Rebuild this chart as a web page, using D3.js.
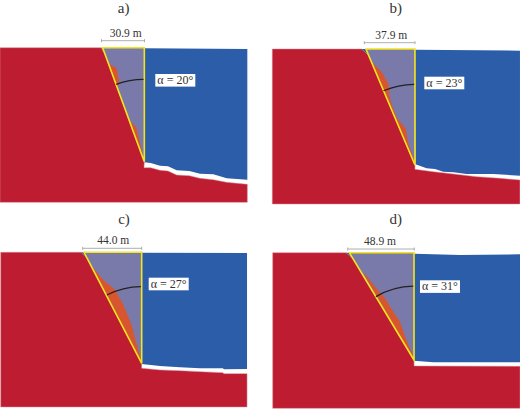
<!DOCTYPE html>
<html>
<head>
<meta charset="utf-8">
<script src="https://cdn.jsdelivr.net/npm/d3@7"></script>
<style>
    html, body { margin: 0; padding: 0; background: #fff; }
    svg { display: block; }
    text { font-family: "Liberation Serif", serif; fill: #333; }
</style>
</head>
<body>
<div id="vis"></div>
<script>
// all lengths in metres: x from left edge of the section, y down from the crest
var panelNames = ['a)', 'b)', 'c)', 'd)'];
var widthLabels = ['30.9 m', '37.9 m', '44.0 m', '48.9 m'];
var alphas = [20, 23, 27, 31];

var sectionWidth = [185.5, 185.75, 184.75, 185.5];
var sectionDepth = [116, 116.25, 116, 116.75];
var crestX = [75.75, 67, 60.25, 55];
var slipTopX = [77, 70.25, 62.5, 57.5];
var slipRightX = [108.25, 107, 105.75, 106];
var toeY = [85.5, 87, 83.25, 80.5];
var arcRadius = [61.75, 60.5, 57.5, 55.5];
var sliverDepth = 4.5;

var blueTop = [
    [[108.25, 0.5], [185.5, 1]],
    [[107, 0.5], [185.75, 1.25]],
    [[105.75, 0.25], [184.75, 0.5]],
    [[106, 0.75], [140.5, 1.75], [185.5, 1.25]]
];
var blueBottom = [
    [[108.25, 86], [113, 86.5], [120, 88.5], [126, 89], [132.5, 92], [142, 92.5], [150, 94.5], [160, 95], [170, 98], [185.5, 99]],
    [[107.25, 86.5], [115.75, 89.5], [122, 90], [128.25, 92], [136, 92.5], [145.75, 93.75], [165.75, 93.75], [185.75, 95]],
    [[105.75, 83.75], [119.5, 85.25], [134.5, 86.25], [149.5, 87], [166.5, 87], [167.5, 87.75], [184.75, 87.5]],
    [[106, 81], [120.5, 82.25], [185.5, 82.25]]
];
var redTop = [
    [[108, 90], [113, 90], [120, 92], [126, 92.5], [132.5, 95.5], [142, 96], [150, 98], [160, 99], [170, 101], [185.5, 102.5]],
    [[107, 90.25], [120.75, 92], [135.75, 93.75], [153.25, 95.75], [170.75, 97], [185.75, 98.25]],
    [[105.75, 87], [119.5, 88.25], [134.5, 88.75], [149.5, 89.5], [166.5, 90.25], [167.5, 91], [184.75, 91]],
    [[106, 85], [185.5, 85.25]]
];
var orangePatches = [
    [
        [[81.25, 11.75], [87.5, 15.5], [89.25, 24.25], [88.75, 28.75], [87.5, 28.75]],
        [[97, 54.25], [102.5, 60.5], [105, 71.75], [108, 84.75], [108.25, 85.5]]
    ],
    [
        [[74.5, 9.5], [82, 17], [87, 26], [88, 32], [87.5, 34], [90, 43], [93.75, 52.25], [100, 59.5], [102, 70.75], [107, 85.75], [107, 87]]
    ],
    [
        [[69.25, 12], [70.75, 13.25], [77, 20.75], [86, 28.25], [92, 39.5], [98.25, 54.5], [100.75, 64.5], [105.75, 82], [105.75, 83.25]]
    ],
    [
        [[68, 15.5], [70, 16.75], [76.75, 25.5], [84.25, 34.25], [90.5, 44.25], [95.5, 51.75], [99.25, 63], [106, 79.25], [106, 80.5]]
    ]
];

// where each panel sits on the page, in pixels
var pxPerMetre = 4 / 3;
var originX = [0, 272.3, 0.7, 272.7];
var originY = [47.7, 49, 252.3, 252.7];
var titlePos = [[123.7, 12.5], [395.7, 12.5], [124, 224], [395.7, 224]];
var dimPos = [[101.5, 144.5, 40.7], [364.3, 415, 42.7], [82.7, 141.7, 248.3], [347.7, 414.3, 249]];
var dimLabelPos = [[125.7, 37], [391.3, 39], [113.3, 244], [380, 245.3]];
var boxPos = [[155.3, 74], [424.3, 76.7], [148.7, 277.7], [420, 280.3]];

var red = '#bd1c31', blue = '#2b5da8', wedge = '#7a7aaa', orange = '#d8562f', yellow = '#f4e41c';

var svg = d3.select('#vis').append('svg').attr('width', 520).attr('height', 409);
var line = d3.line();

panelNames.forEach(function(name, i) {
    var x = d3.scaleLinear().domain([0, sectionWidth[i]])
        .range([originX[i], originX[i] + sectionWidth[i] * pxPerMetre]);
    var y = d3.scaleLinear().domain([0, sectionDepth[i]])
        .range([originY[i], originY[i] + sectionDepth[i] * pxPerMetre]);
    var toPx = function(p) { return [x(p[0]), y(p[1])]; };
    var g = svg.append('g');

    // point on the slip line where the blue sliver at the crest ends
    var slipAt = d3.scaleLinear().domain([0, toeY[i]]).range([slipTopX[i], slipRightX[i]]);
    var sliverEnd = [slipAt(sliverDepth), sliverDepth];

    var redShape = [[0, 0], [crestX[i], 0], sliverEnd, [slipRightX[i], toeY[i]]]
        .concat(redTop[i])
        .concat([[sectionWidth[i], sectionDepth[i]], [0, sectionDepth[i]]]);
    g.append('path').attr('d', line(redShape.map(toPx)) + 'Z')
        .attr('fill', red).attr('stroke', '#d98a94').attr('stroke-width', 0.5);

    var blueShape = blueTop[i].concat(blueBottom[i].slice().reverse());
    g.append('path').attr('d', line(blueShape.map(toPx)) + 'Z').attr('fill', blue);

    var sliver = [[crestX[i], 0], [slipTopX[i], 0], sliverEnd];
    g.append('path').attr('d', line(sliver.map(toPx)) + 'Z').attr('fill', blue);

    var slip = [[slipTopX[i], 0], [slipRightX[i], 0], [slipRightX[i], toeY[i]]];
    g.append('path').attr('d', line(slip.map(toPx)) + 'Z').attr('fill', wedge);

    orangePatches[i].forEach(function(patch) {
        g.append('path').attr('d', line(patch.map(toPx)) + 'Z').attr('fill', orange);
    });

    g.append('path').attr('d', line(slip.map(toPx)) + 'Z')
        .attr('fill', 'none').attr('stroke', yellow).attr('stroke-width', 1.6)
        .attr('stroke-linejoin', 'miter');

    var r = arcRadius[i] * pxPerMetre;
    var arc = d3.arc().innerRadius(r).outerRadius(r)
        .startAngle(-alphas[i] * Math.PI / 180).endAngle(-0.01);
    g.append('path').attr('d', arc())
        .attr('transform', 'translate(' + x(slipRightX[i]) + ',' + y(toeY[i]) + ')')
        .attr('fill', 'none').attr('stroke', '#222').attr('stroke-width', 1.3);

    g.append('text').attr('x', titlePos[i][0]).attr('y', titlePos[i][1])
        .attr('text-anchor', 'middle').attr('font-size', 15).text(name);

    var d = dimPos[i];
    g.append('path').attr('d', 'M' + d[0] + ',' + d[2] + 'H' + d[1]
        + 'M' + d[0] + ',' + (d[2] - 1.5) + 'v3M' + d[1] + ',' + (d[2] - 1.5) + 'v3')
        .attr('fill', 'none').attr('stroke', '#999').attr('stroke-width', 0.8);
    g.append('text').attr('x', dimLabelPos[i][0]).attr('y', dimLabelPos[i][1])
        .attr('text-anchor', 'middle').attr('font-size', 11.5).text(widthLabels[i]);

    g.append('rect').attr('x', boxPos[i][0]).attr('y', boxPos[i][1])
        .attr('width', 40).attr('height', 12.6).attr('fill', '#fff');
    g.append('text').attr('x', boxPos[i][0] + 20).attr('y', boxPos[i][1] + 10)
        .attr('text-anchor', 'middle').attr('font-size', 12)
        .text('α = ' + alphas[i] + '°');
});
</script>
</body>
</html>
